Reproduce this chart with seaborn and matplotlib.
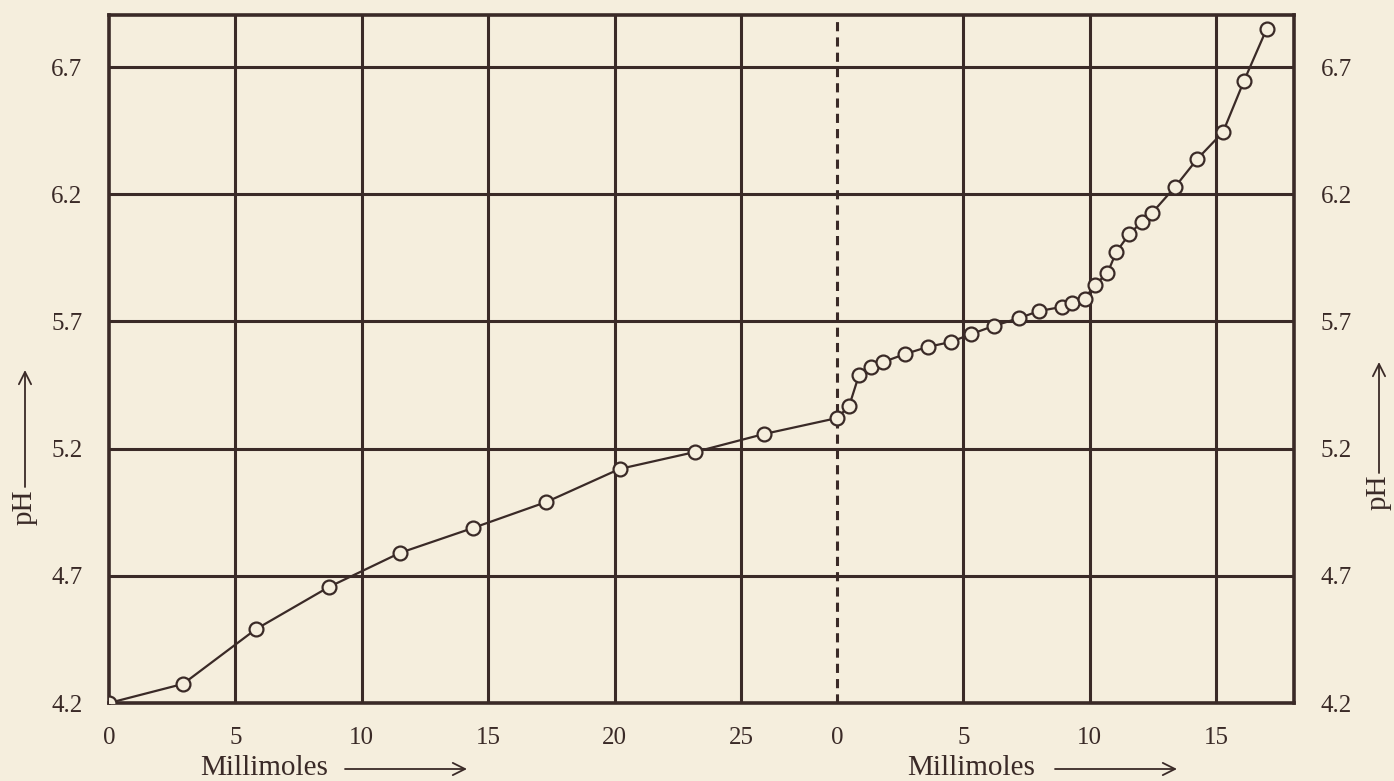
import matplotlib
matplotlib.use("Agg")
import matplotlib.pyplot as plt
import seaborn as sns
import pandas as pd
import numpy as np

# ---- data ----
left_mmol = [0.0, 2.93, 5.81, 8.70, 11.51, 14.4, 17.3, 20.2, 23.2, 25.9, 28.8]
left_ph = [4.20, 4.275, 4.49, 4.656, 4.79, 4.888, 4.99, 5.12, 5.187, 5.257, 5.32]

right_mmol = [0.48, 0.87, 1.33, 1.82, 2.7, 3.6, 4.5, 5.3, 6.2, 7.2, 8.0, 8.9, 9.3,
              9.8, 10.2, 10.7, 11.05, 11.57, 12.05, 12.46, 13.37, 14.25, 15.27,
              16.1, 17.0]
right_ph = [5.367, 5.489, 5.52, 5.54, 5.572, 5.60, 5.619, 5.65, 5.682, 5.713, 5.741,
            5.757, 5.772, 5.79, 5.843, 5.89, 5.973, 6.044, 6.09, 6.126, 6.228, 6.338,
            6.444, 6.645, 6.85]

right_offset = 28.8          # where the second titration starts (dashed line)
right_span = 18.08

left_ticks = [0, 5, 10, 15, 20, 25]
right_ticks = [0, 5, 10, 15]
ph_ticks = [4.2, 4.7, 5.2, 5.7, 6.2, 6.7]
ph_labels = ["4.2", "4.7", "5.2", "5.7", "6.2", "6.7"]

INK = "#3a2a27"
BG = "#f5eedd"

df = pd.DataFrame({
    "x": left_mmol + [right_offset + v for v in right_mmol],
    "pH": left_ph + right_ph,
})

sns.set_theme(style="white")
plt.rcParams["font.family"] = ["Liberation Serif", "DejaVu Serif"]

fig = plt.figure(figsize=(13.94, 7.81), dpi=100, facecolor=BG)
ax = fig.add_axes([109 / 1394, 1 - 703 / 781, (1294 - 109) / 1394, (703 - 15) / 781])
ax.set_facecolor(BG)

ax.set_xlim(0, right_offset + right_span)
ax.set_ylim(4.2, 4.2 + 688 / 254.4)

# grid lines
for v in left_ticks[1:]:
    ax.axvline(v, color=INK, lw=2.2, zorder=1)
for v in right_ticks[1:]:
    ax.axvline(right_offset + v, color=INK, lw=2.2, zorder=1)
for v in ph_ticks[1:]:
    ax.axhline(v, color=INK, lw=2.2, zorder=1)
ax.axvline(right_offset, color=INK, lw=2.2, ls=(0, (3, 2)), zorder=1)

sns.lineplot(data=df, x="x", y="pH", ax=ax, color=INK, lw=1.6, marker="o",
             markersize=10, markerfacecolor=BG, markeredgecolor=INK,
             markeredgewidth=1.6, zorder=3, sort=False)

xt = left_ticks + [right_offset + v for v in right_ticks]
xl = [str(v) for v in left_ticks] + [str(v) for v in right_ticks]
ax.set_xticks(xt)
ax.set_xticklabels(xl)
ax.set_yticks(ph_ticks)
ax.set_yticklabels(ph_labels)
ax.tick_params(axis="x", length=0, pad=17, labelsize=18, labelcolor=INK)
ax.tick_params(axis="y", length=0, pad=19, labelsize=18, labelcolor=INK,
               labelleft=True, labelright=True)
ax.set_xlabel("")
ax.set_ylabel("")
for s in ax.spines.values():
    s.set_visible(True)
    s.set_color(INK)
    s.set_linewidth(2.6)

# axis titles with arrows
def fx(px):
    return px / 1394

def fy(py):
    return 1 - py / 781

fig.text(fx(200), fy(768), "Millimoles", ha="left", va="center", fontsize=21, color=INK)
fig.text(fx(907), fy(768), "Millimoles", ha="left", va="center", fontsize=21, color=INK)
arrow = dict(arrowstyle="->", color=INK, lw=1.3, mutation_scale=22, shrinkA=0, shrinkB=0)
fig.add_artist(matplotlib.patches.FancyArrowPatch((fx(345), fy(769)), (fx(467), fy(769)),
               transform=fig.transFigure, **arrow))
fig.add_artist(matplotlib.patches.FancyArrowPatch((fx(1055), fy(769)), (fx(1177), fy(769)),
               transform=fig.transFigure, **arrow))

fig.text(fx(25), fy(507), "pH", rotation=90, ha="center", va="center", fontsize=21, color=INK)
fig.text(fx(1379), fy(492), "pH", rotation=90, ha="center", va="center", fontsize=21, color=INK)
fig.add_artist(matplotlib.patches.FancyArrowPatch((fx(25), fy(487)), (fx(25), fy(370)),
               transform=fig.transFigure, **arrow))
fig.add_artist(matplotlib.patches.FancyArrowPatch((fx(1379), fy(473)), (fx(1379), fy(362)),
               transform=fig.transFigure, **arrow))

fig.savefig("out.png", dpi=100, facecolor=BG)
